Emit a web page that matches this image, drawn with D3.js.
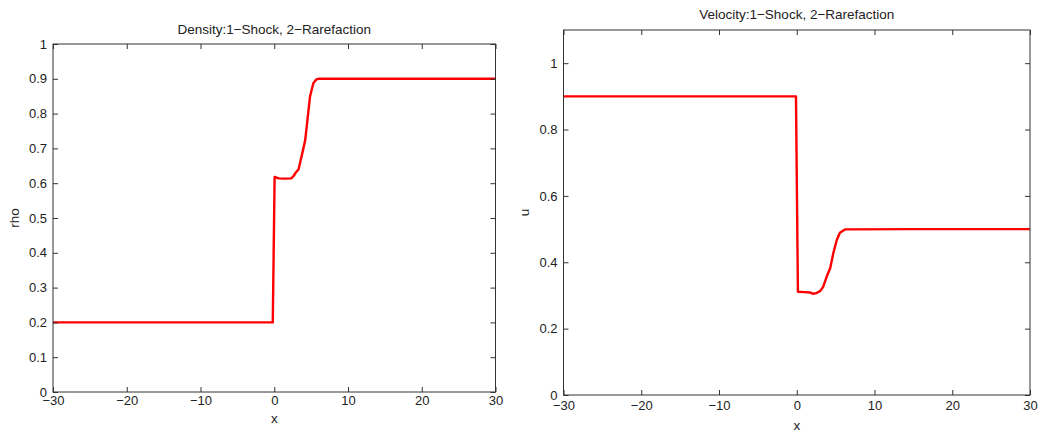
<!DOCTYPE html>
<html>
<head>
<meta charset="utf-8">
<script src="https://cdn.jsdelivr.net/npm/d3@7"></script>
<style>
  body { margin: 0; background: #fff; }
  svg { display: block; font-family: "Liberation Sans", Arial, sans-serif; }
  .axis text { font-size: 13px; fill: #222; }
  .axis line, .axis path { stroke: #333; }
  .plot-title { font-size: 13.5px; fill: #222; }
  .axis-title { font-size: 13.5px; fill: #222; }
</style>
</head>
<body>
<div id="chart"></div>
<script>
// Density profile
const rhoX = [-30, -15, -0.2, 0.05, 0.6, 1.5, 2.3, 2.6, 2.9, 3.3, 3.9, 4.2, 4.5, 4.85, 5.3, 5.7, 6.0, 15, 30];
const rhoY = [0.2, 0.2, 0.2, 0.618, 0.614, 0.613, 0.614, 0.62, 0.63, 0.64, 0.695, 0.724, 0.782, 0.849, 0.887, 0.898, 0.9, 0.9, 0.9];

// Velocity profile
const uX = [-30, -15, -0.1, 0.15, 1.0, 1.7, 2.1, 2.5, 3.0, 3.4, 3.85, 4.3, 4.7, 5.15, 5.55, 6.2, 15, 30];
const uY = [0.9, 0.9, 0.9, 0.311, 0.31, 0.309, 0.305, 0.307, 0.313, 0.326, 0.357, 0.382, 0.427, 0.467, 0.489, 0.499, 0.5, 0.5];

const xTicks = [-30, -20, -10, 0, 10, 20, 30];
const rhoTicks = [0, 0.1, 0.2, 0.3, 0.4, 0.5, 0.6, 0.7, 0.8, 0.9, 1];
const uTicks = [0, 0.2, 0.4, 0.6, 0.8, 1];

const svg = d3.select('#chart').append('svg')
  .attr('width', 1042)
  .attr('height', 432);

function drawPanel(cfg) {
  const width = cfg.right - cfg.left;
  const height = cfg.bottom - cfg.top;

  const xScale = d3.scaleLinear().domain([-30, 30]).range([0, width]);
  const yScale = d3.scaleLinear().domain(cfg.yDomain).range([height, 0]);

  const g = svg.append('g')
    .attr('transform', `translate(${cfg.left},${cfg.top})`);

  // data line first, box and ticks drawn on top
  const data = cfg.xs.map((x, i) => [x, cfg.ys[i]]);
  g.append('path')
    .datum(data)
    .attr('fill', 'none')
    .attr('stroke', '#ff0000')
    .attr('stroke-width', 2.4)
    .attr('stroke-linejoin', 'round')
    .attr('d', d3.line().x(d => xScale(d[0])).y(d => yScale(d[1])));

  // inward ticks on all four sides, MATLAB style
  const tick = 5;
  g.append('g')
    .attr('class', 'axis')
    .attr('transform', `translate(0,${height})`)
    .call(d3.axisBottom(xScale).tickValues(xTicks).tickSize(-tick).tickSizeOuter(0).tickPadding(cfg.xPad))
    .call(a => a.select('.domain').remove());

  g.append('g')
    .attr('class', 'axis')
    .call(d3.axisTop(xScale).tickValues(xTicks).tickSize(-tick).tickSizeOuter(0).tickFormat(''))
    .call(a => a.select('.domain').remove());

  g.append('g')
    .attr('class', 'axis')
    .call(d3.axisLeft(yScale).tickValues(cfg.yTicks).tickSize(-tick).tickSizeOuter(0).tickPadding(cfg.yPad)
      .tickFormat(d3.format('~g')))
    .call(a => a.select('.domain').remove());

  g.append('g')
    .attr('class', 'axis')
    .attr('transform', `translate(${width},0)`)
    .call(d3.axisRight(yScale).tickValues(cfg.yTicks).tickSize(-tick).tickSizeOuter(0).tickFormat(''))
    .call(a => a.select('.domain').remove());

  g.append('rect')
    .attr('width', width)
    .attr('height', height)
    .attr('fill', 'none')
    .attr('stroke', '#333')
    .attr('stroke-width', 1);

  g.append('text')
    .attr('class', 'plot-title')
    .attr('x', width / 2)
    .attr('y', cfg.titleY - cfg.top)
    .attr('text-anchor', 'middle')
    .text(cfg.title);

  g.append('text')
    .attr('class', 'axis-title')
    .attr('x', width / 2)
    .attr('y', cfg.xLabelY - cfg.top)
    .attr('text-anchor', 'middle')
    .text('x');

  g.append('text')
    .attr('class', 'axis-title')
    .attr('transform', `translate(${cfg.yLabelX - cfg.left},${height / 2}) rotate(-90)`)
    .attr('text-anchor', 'middle')
    .text(cfg.yLabel);
}

drawPanel({
  left: 53, right: 495.5, top: 44, bottom: 392,
  yDomain: [0, 1], yTicks: rhoTicks,
  xs: rhoX, ys: rhoY,
  title: 'Density:1\u2212Shock, 2\u2212Rarefaction', titleY: 33.5,
  yLabel: 'rho', yLabelX: 19, xLabelY: 423,
  xPad: 4, yPad: 6
});

drawPanel({
  left: 563.5, right: 1030, top: 30, bottom: 395,
  yDomain: [0, 1.1], yTicks: uTicks,
  xs: uX, ys: uY,
  title: 'Velocity:1\u2212Shock, 2\u2212Rarefaction', titleY: 19,
  yLabel: 'u', yLabelX: 529, xLabelY: 430,
  xPad: 6, yPad: 6
});
</script>
</body>
</html>
